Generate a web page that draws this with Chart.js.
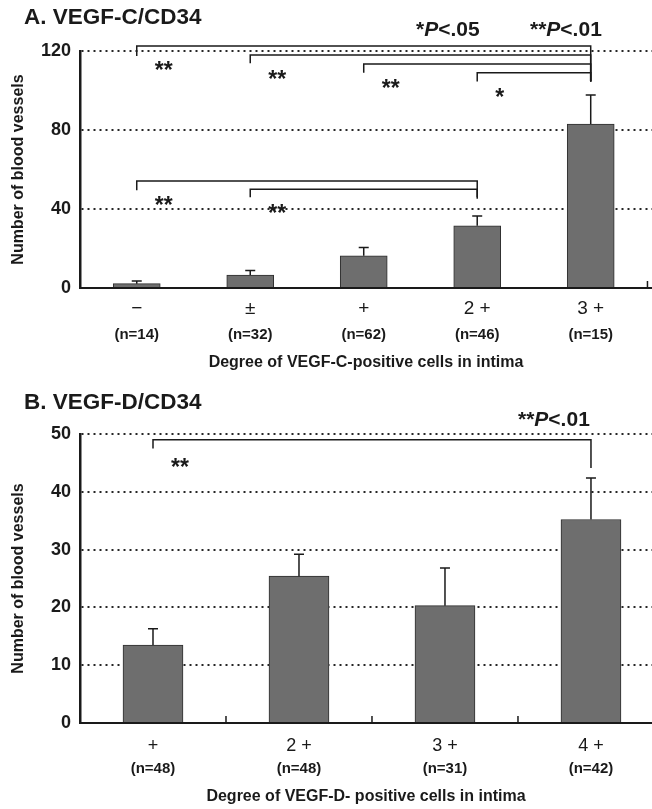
<!DOCTYPE html>
<html>
<head>
<meta charset="utf-8">
<script src="https://cdn.jsdelivr.net/npm/chart.js@4.4.1/dist/chart.umd.min.js"></script>
<style>
  html, body { margin: 0; padding: 0; background: #fff; }
  canvas { display: block; }
</style>
</head>
<body>
<canvas id="chartA" width="652" height="383"></canvas>
<canvas id="chartB" width="652" height="426"></canvas>
<script>
// A. VEGF-C/CD34
const degreeC = ['\u2212', '\u00b1', '+', '2 +', '3 +'];
const countC = ['(n=14)', '(n=32)', '(n=62)', '(n=46)', '(n=15)'];
const vesselsC = [2.2, 6.6, 16.3, 31.5, 83];
const semC = [1.4, 2.2, 4.2, 4.9, 14.7];
const ticksC = [0, 40, 80, 120];
// pairs compared: [from, to, mark]
const compC = [[0, 4, '**'], [1, 4, '**'], [2, 4, '**'], [3, 4, '*'], [0, 3, '**'], [1, 3, '**']];

// B. VEGF-D/CD34
const degreeD = ['+', '2 +', '3 +', '4 +'];
const countD = ['(n=48)', '(n=48)', '(n=31)', '(n=42)'];
const vesselsD = [13.5, 25.4, 20.3, 35.2];
const semD = [2.8, 3.8, 6.5, 7.2];
const ticksD = [0, 10, 20, 30, 40, 50];
const compD = [[0, 3, '**']];

const FONT = "'Liberation Sans', Arial, sans-serif";
const INK = '#1a1a1a';

// error bars, significance brackets, titles
function extras(o) {
  return {
    id: 'extras',
    afterDraw(chart) {
      const { ctx, scales: { x, y } } = chart;
      ctx.save();
      ctx.strokeStyle = INK;
      ctx.lineWidth = 1.5;

      o.values.forEach((v, i) => {
        const px = x.getPixelForValue(i);
        const top = y.getPixelForValue(v + o.sem[i]);
        ctx.beginPath();
        ctx.moveTo(px, y.getPixelForValue(v));
        ctx.lineTo(px, top);
        ctx.moveTo(px - 5, top);
        ctx.lineTo(px + 5, top);
        ctx.stroke();
      });

      // small ticks on the x axis
      const base = y.getPixelForValue(0);
      o.minor.forEach(m => {
        const px = x.getPixelForValue(m);
        ctx.beginPath();
        ctx.moveTo(px, base);
        ctx.lineTo(px, base - 7);
        ctx.stroke();
      });

      ctx.fillStyle = INK;
      o.comps.forEach((c, k) => {
        const lv = o.levels[k];
        const x1 = x.getPixelForValue(c[0]);
        const x2 = x.getPixelForValue(c[1]);
        const yl = y.getPixelForValue(lv[0]);
        ctx.beginPath();
        ctx.moveTo(x1, y.getPixelForValue(lv[1]));
        ctx.lineTo(x1, yl);
        ctx.lineTo(x2, yl);
        ctx.lineTo(x2, y.getPixelForValue(lv[2]));
        ctx.stroke();
        ctx.font = 'bold 23px ' + FONT;
        ctx.textAlign = 'left';
        ctx.textBaseline = 'alphabetic';
        ctx.fillText(c[2], x1 + 18, yl + o.starDrop + 13);
      });

      ctx.textBaseline = 'middle';
      ctx.textAlign = 'left';
      ctx.font = 'bold 22.5px ' + FONT;
      ctx.fillText(o.title, 24, o.titleY);

      o.notes.forEach(n => {
        let px = n.x;
        [[n.pre, 'bold '], ['P', 'italic bold '], [n.post, 'bold ']].forEach(([t, f]) => {
          ctx.font = f + '21px ' + FONT;
          ctx.fillText(t, px, n.y);
          px += ctx.measureText(t).width;
        });
      });
      ctx.restore();
    }
  };
}

function build(id, o) {
  const catTicks = s => { s.ticks = o.labels.map((_, i) => ({ value: i })); };
  return new Chart(document.getElementById(id), {
    type: 'bar',
    data: {
      datasets: [{
        data: o.values.map((v, i) => ({ x: i, y: v })),
        backgroundColor: '#6e6e6e',
        borderColor: '#2e2e2e',
        borderWidth: 1,
        barThickness: o.barWidth
      }]
    },
    options: {
      responsive: false,
      animation: false,
      devicePixelRatio: 1,
      layout: { padding: { top: o.padTop, left: 9, right: 0, bottom: 0 } },
      plugins: { legend: { display: false }, tooltip: { enabled: false } },
      scales: {
        x: {
          type: 'linear', min: o.xMin, max: o.xMax, weight: 0, offset: false,
          afterBuildTicks: catTicks,
          afterFit: s => { s.height = o.xH; },
          ticks: {
            autoSkip: false, maxRotation: 0, padding: o.xPad,
            color: INK, font: { family: FONT, size: o.degSize },
            callback: v => o.labels[v]
          },
          grid: { display: false, drawTicks: false },
          border: { color: INK, width: 2 }
        },
        x2: {
          type: 'linear', position: 'bottom', min: o.xMin, max: o.xMax, weight: 1, offset: false,
          afterBuildTicks: catTicks,
          afterFit: s => { s.height = o.x2H; },
          ticks: {
            autoSkip: false, maxRotation: 0, padding: o.x2Pad,
            color: INK, font: { family: FONT, size: 15, weight: 'bold' },
            callback: v => o.counts[v]
          },
          grid: { display: false, drawTicks: false },
          border: { display: false },
          title: {
            display: true, text: o.xTitle, color: INK,
            font: { family: FONT, size: 16, weight: 'bold', lineHeight: 1 },
            padding: { top: 0, bottom: o.xTitlePad }
          }
        },
        y: {
          min: 0, max: o.yMax,
          afterBuildTicks: s => { s.ticks = o.yTicks.map(v => ({ value: v })); },
          afterFit: s => { s.width = 71; },
          ticks: { padding: 9, color: INK, font: { family: FONT, size: 18, weight: 'bold' } },
          grid: {
            drawTicks: false, lineWidth: 2,
            color: c => (c.tick && c.tick.value === 0 ? 'rgba(0,0,0,0)' : '#262626')
          },
          border: { color: INK, width: 2.5, dash: [2, 4] },
          title: {
            display: true, text: 'Number of blood vessels', color: INK,
            font: { family: FONT, size: 16, weight: 'bold' },
            padding: { top: 0, bottom: 4 }
          }
        }
      }
    },
    plugins: [extras(o)]
  });
}

build('chartA', {
  labels: degreeC, counts: countC, values: vesselsC, sem: semC,
  yTicks: ticksC, yMax: 120, xMin: -0.5, xMax: 4.54, barWidth: 47,
  padTop: 51, xH: 36, x2H: 59, xPad: 9, x2Pad: 2, xTitlePad: 12, degSize: 19,
  xTitle: 'Degree of VEGF-C-positive cells in intima',
  title: 'A. VEGF-C/CD34', titleY: 18,
  notes: [{ pre: '*', post: '<.05', x: 416, y: 30 }, { pre: '**', post: '<.01', x: 530, y: 30 }],
  comps: compC,
  // [bar level, left end, right end] in data units
  levels: [[122.5, 117.5, 104.5], [118, 113.8, 104.5], [113.4, 109, 104.5], [109, 104.5, 104.5],
           [54.2, 49.5, 46], [50, 46, 45.2]],
  starDrop: 19,
  minor: [4.5]
});

build('chartB', {
  labels: degreeD, counts: countD, values: vesselsD, sem: semD,
  yTicks: ticksD, yMax: 50, xMin: -0.5, xMax: 3.418, barWidth: 60,
  padTop: 51, xH: 35, x2H: 51, xPad: 12, x2Pad: 2, xTitlePad: 4, degSize: 18,
  xTitle: 'Degree of VEGF-D- positive cells in intima',
  title: 'B. VEGF-D/CD34', titleY: 20,
  notes: [{ pre: '**', post: '<.01', x: 518, y: 37 }],
  comps: compD,
  levels: [[49, 47.5, 44.1]],
  starDrop: 22,
  minor: [0.5, 1.5, 2.5]
});
</script>
</body>
</html>
